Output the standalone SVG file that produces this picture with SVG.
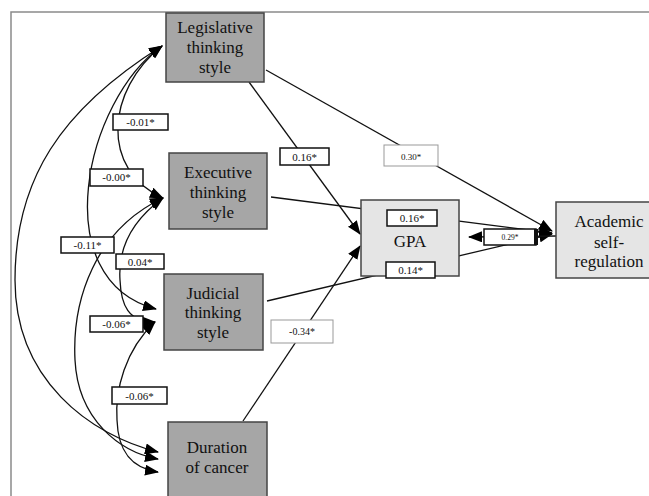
<svg xmlns="http://www.w3.org/2000/svg" width="649" height="496" viewBox="0 0 649 496">
<style>
.dark{fill:#a6a6a6;stroke:#444;stroke-width:1.5}
.light{fill:#e5e5e5;stroke:#444;stroke-width:1.5}
.nt{font-family:'Liberation Serif','DejaVu Serif','Times New Roman',serif;font-size:17px;fill:#111;text-anchor:middle}
.lb{fill:#fff;stroke:#111;stroke-width:1.5}
.lbg{fill:#fff;stroke:#999;stroke-width:1}
.lt{font-family:'Liberation Serif','DejaVu Serif','Times New Roman',serif;font-size:11px;fill:#111;text-anchor:middle}
.e{fill:none;stroke:#111;stroke-width:1.3}
</style>
<defs>
<marker id="ah" viewBox="0 0 14 11" refX="13" refY="5.5" markerWidth="14" markerHeight="11" markerUnits="userSpaceOnUse" orient="auto-start-reverse">
<path d="M0,0 L14,5.5 L0,11 Z" fill="#000"/>
</marker>
</defs>
<rect x="11" y="12" width="700" height="600" fill="#fff" stroke="#8a8a8a" stroke-width="1.5"/>

<g id="connectors">
<path class="e" d="M249,82 L360,234" marker-end="url(#ah)"/>
<path class="e" d="M266,70 L552,231" marker-end="url(#ah)"/>
<path class="e" d="M271,197 L552,233" marker-end="url(#ah)"/>
<path class="e" d="M267,301 L552,234" marker-end="url(#ah)"/>
<path class="e" d="M243,421 L360,246" marker-end="url(#ah)"/>
<path class="e" d="M556,236 L469,237" marker-end="url(#ah)"/>
<path class="e" d="M162,46 C106,90 100,170 163,198" marker-start="url(#ah)" marker-end="url(#ah)"/>
<path class="e" d="M162,46 C85,100 45,280 156,309" marker-start="url(#ah)" marker-end="url(#ah)"/>
<path class="e" d="M162,46 C60,110 15,180 15,280 C15,380 90,435 158,452" marker-start="url(#ah)" marker-end="url(#ah)"/>
<path class="e" d="M163,198 C95,230 72,300 75,360 C78,420 120,452 158,459" marker-start="url(#ah)" marker-end="url(#ah)"/>
<path class="e" d="M163,198 C130,222 118,250 120,280 C121,305 128,322 155,322" marker-start="url(#ah)" marker-end="url(#ah)"/>
<path class="e" d="M155,322 C125,350 115,390 117,420 C118,450 130,468 158,472" marker-start="url(#ah)" marker-end="url(#ah)"/>
</g>

<g id="legislative">
<rect class="dark" x="166" y="13" width="98" height="69"/>
<text class="nt" x="215" y="33">Legislative</text>
<text class="nt" x="215" y="53">thinking</text>
<text class="nt" x="215" y="73">style</text>
</g>
<g id="executive">
<rect class="dark" x="169" y="153" width="98" height="76"/>
<text class="nt" x="218" y="178">Executive</text>
<text class="nt" x="218" y="198">thinking</text>
<text class="nt" x="218" y="218">style</text>
</g>
<g id="judicial">
<rect class="dark" x="164" y="274" width="99" height="76"/>
<text class="nt" x="213" y="299">Judicial</text>
<text class="nt" x="213" y="318">thinking</text>
<text class="nt" x="213" y="338">style</text>
</g>
<g id="duration">
<rect class="dark" x="168" y="422" width="99" height="90"/>
<text class="nt" x="217" y="453">Duration</text>
<text class="nt" x="217" y="473">of cancer</text>
</g>
<g id="gpa">
<rect class="light" x="361" y="200" width="98" height="76"/>
<text class="nt" x="410" y="247">GPA</text>
</g>
<g id="academic">
<rect class="light" x="556" y="202" width="106" height="76"/>
<text class="nt" x="609" y="227">Academic</text>
<text class="nt" x="609" y="248">self-</text>
<text class="nt" x="609" y="267">regulation</text>
</g>

<g id="labels">
<rect class="lb" x="113" y="114" width="55" height="16"/><text class="lt" x="140.5" y="126">-0.01*</text>
<rect class="lb" x="90" y="169" width="53" height="17"/><text class="lt" x="116.5" y="181">-0.00*</text>
<rect class="lb" x="61" y="237" width="53" height="16"/><text class="lt" x="87.5" y="249">-0.11*</text>
<rect class="lb" x="116" y="254" width="48" height="15"/><text class="lt" x="140" y="265.5">0.04*</text>
<rect class="lb" x="90" y="316" width="53" height="16"/><text class="lt" x="116.5" y="328">-0.06*</text>
<rect class="lb" x="112" y="387" width="55" height="17"/><text class="lt" x="139.5" y="399.5">-0.06*</text>
<rect class="lb" x="280" y="148" width="49" height="17"/><text class="lt" x="304.5" y="160.5">0.16*</text>
<rect class="lbg" x="384" y="145" width="54" height="21"/><text class="lt" x="411" y="159.5" style="font-size:9px">0.30*</text>
<rect class="lb" x="387" y="210" width="50" height="16"/><text class="lt" x="412" y="222">0.16*</text>
<rect class="lb" x="484" y="229" width="52" height="16"/><text class="lt" x="510" y="240" style="font-size:7.5px">0.29*</text>
<rect x="534" y="229" width="4" height="16" fill="#111"/>
<rect class="lb" x="386" y="262" width="49" height="16"/><text class="lt" x="410.5" y="274">0.14*</text>
<rect class="lbg" x="271" y="320" width="62" height="23"/><text class="lt" x="302" y="335" style="font-size:10px">-0.34*</text>
</g>
</svg>
